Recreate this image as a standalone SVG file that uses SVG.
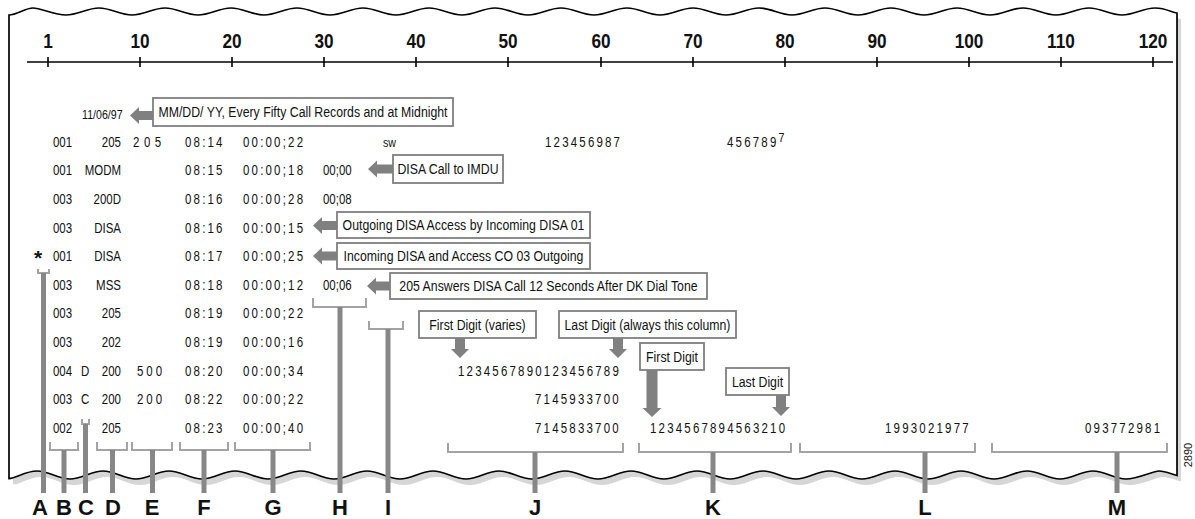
<svg xmlns="http://www.w3.org/2000/svg" width="1195" height="519" viewBox="0 0 1195 519">
<style>
text{font-family:'Liberation Sans',Arial,sans-serif;fill:#111}
.d{font-size:14px}
.sp{letter-spacing:2.68px}
.e{text-anchor:end}
.c{font-size:15px;text-anchor:middle}
.box{fill:#fff;stroke:#7f7f7f;stroke-width:1.8}
.arr{fill:#808080}
.br{fill:none;stroke:#a3a3a3;stroke-width:2}
.stem{stroke:#878787;stroke-width:5}
.num{font-size:21px;font-weight:bold;text-anchor:middle}
.lab{font-size:22px;font-weight:bold;text-anchor:middle}
.rul{stroke:#000;stroke-width:1.6}
</style>
<defs>
<path id="paper" d="M9,15 C17,15 25,8 33,8 S54.1,15 66,15 S87.1,8 99,8 S120.1,15 132,15 S153.1,8 165,8 S186.1,15 198,15 S219.1,8 231,8 S252.1,15 264,15 S285.1,8 297,8 S318.1,15 330,15 S351.1,8 363,8 S384.1,15 396,15 S417.1,8 429,8 S450.1,15 462,15 S483.1,8 495,8 S516.1,15 528,15 S549.1,8 561,8 S582.1,15 594,15 S615.1,8 627,8 S648.1,15 660,15 S681.1,8 693,8 S714.1,15 726,15 S747.1,8 759,8 S780.1,15 792,15 S813.1,8 825,8 S846.1,15 858,15 S879.1,8 891,8 S912.1,15 924,15 S945.1,8 957,8 S978.1,15 990,15 S1011.1,8 1023,8 S1044.1,15 1056,15 S1077.1,8 1089,8 S1110.1,15 1122,15 S1143.1,8 1155,8 S1172,13 1177,13 L1177,475.5 C1170,473.5 1165,471 1159,471 S1137.9,479 1126,479 S1104.9,471 1093,471 S1071.9,479 1060,479 S1038.9,471 1027,471 S1005.9,479 994,479 S972.9,471 961,471 S939.9,479 928,479 S906.9,471 895,471 S873.9,479 862,479 S840.9,471 829,471 S807.9,479 796,479 S774.9,471 763,471 S741.9,479 730,479 S708.9,471 697,471 S675.9,479 664,479 S642.9,471 631,471 S609.9,479 598,479 S576.9,471 565,471 S543.9,479 532,479 S510.9,471 499,471 S477.9,479 466,479 S444.9,471 433,471 S411.9,479 400,479 S378.9,471 367,471 S345.9,479 334,479 S312.9,471 301,471 S279.9,479 268,479 S246.9,471 235,471 S213.9,479 202,479 S180.9,471 169,471 S147.9,479 136,479 S114.9,471 103,471 S81.9,479 70,479 S48.9,471 37,471 S16,478.6 9,478.6 Z"/>
</defs>

<g id="paper-sheet">
<use href="#paper" transform="translate(4,6)" fill="#d6d6d6"/>
<use href="#paper" fill="#fff" stroke="#000" stroke-width="1.7"/>
</g>

<g id="ruler">
<line class="rul" x1="27" y1="62" x2="1173" y2="62"/>
<path class="rul" fill="none" d="M48,57V67 M140,57V67 M232,57V67 M324,57V67 M416,57V67 M508,57V67 M601,57V67 M693,57V67 M785,57V67 M877,57V67 M969,57V67 M1061,57V67 M1153,57V67"/>
<g transform="scale(0.82,1)">
<text class="num" x="58.54" y="48">1</text>
<text class="num" x="170.73" y="48">10</text>
<text class="num" x="282.93" y="48">20</text>
<text class="num" x="395.12" y="48">30</text>
<text class="num" x="507.32" y="48">40</text>
<text class="num" x="619.51" y="48">50</text>
<text class="num" x="732.93" y="48">60</text>
<text class="num" x="845.12" y="48">70</text>
<text class="num" x="957.32" y="48">80</text>
<text class="num" x="1069.51" y="48">90</text>
<text class="num" x="1181.71" y="48">100</text>
<text class="num" x="1293.9" y="48">110</text>
<text class="num" x="1406.1" y="48">120</text>
</g>
</g>

<g id="records">
<text x="34" y="265" style="font-size:21px;font-weight:bold">*</text>
<g class="d" transform="scale(0.82,1)">
<text x="100" y="119.5" style="font-size:13px">11/06/97</text>

<text x="64.63" y="147">001</text><text class="e" x="147.56" y="147">205</text><text x="162.2" y="147" style="letter-spacing:5.49px">205</text><text class="sp" x="225.61" y="147">08:14</text><text class="sp" x="296.34" y="147">00:00;22</text><text x="467.07" y="147" style="font-size:13px">sw</text><text class="sp" x="664.63" y="147">123456987</text><text class="sp" x="886.59" y="147">456789<tspan dy="-5" style="font-size:13px">7</tspan></text>

<text x="64.63" y="175.5">001</text><text class="e" x="147.56" y="175.5">MODM</text><text class="sp" x="225.61" y="175.5">08:15</text><text class="sp" x="296.34" y="175.5">00:00;18</text><text x="393.9" y="175.5">00;00</text>

<text x="64.63" y="204.5">003</text><text class="e" x="147.56" y="204.5">200D</text><text class="sp" x="225.61" y="204.5">08:16</text><text class="sp" x="296.34" y="204.5">00:00;28</text><text x="393.9" y="204.5">00;08</text>

<text x="64.63" y="233">003</text><text class="e" x="147.56" y="233">DISA</text><text class="sp" x="225.61" y="233">08:16</text><text class="sp" x="296.34" y="233">00:00;15</text>

<text x="64.63" y="261.5">001</text><text class="e" x="147.56" y="261.5">DISA</text><text class="sp" x="225.61" y="261.5">08:17</text><text class="sp" x="296.34" y="261.5">00:00;25</text>

<text x="64.63" y="290">003</text><text class="e" x="147.56" y="290">MSS</text><text class="sp" x="225.61" y="290">08:18</text><text class="sp" x="296.34" y="290">00:00;12</text><text x="393.9" y="290">00;06</text>

<text x="64.63" y="318.5">003</text><text class="e" x="147.56" y="318.5">205</text><text class="sp" x="225.61" y="318.5">08:19</text><text class="sp" x="296.34" y="318.5">00:00;22</text>

<text x="64.63" y="347.5">003</text><text class="e" x="147.56" y="347.5">202</text><text class="sp" x="225.61" y="347.5">08:19</text><text class="sp" x="296.34" y="347.5">00:00;16</text>

<text x="64.63" y="376">004</text><text x="98.78" y="376">D</text><text class="e" x="147.56" y="376">200</text><text x="167.07" y="376" style="letter-spacing:3.66px">500</text><text class="sp" x="225.61" y="376">08:20</text><text class="sp" x="296.34" y="376">00:00;34</text><text class="sp" x="558.54" y="376">1234567890123456789</text>

<text x="64.63" y="404.5">003</text><text x="98.78" y="404.5">C</text><text class="e" x="147.56" y="404.5">200</text><text x="167.07" y="404.5" style="letter-spacing:3.66px">200</text><text class="sp" x="225.61" y="404.5">08:22</text><text class="sp" x="296.34" y="404.5">00:00;22</text><text class="sp" x="652.44" y="404.5">7145933700</text>

<text x="64.63" y="433">002</text><text class="e" x="147.56" y="433">205</text><text class="sp" x="225.61" y="433">08:23</text><text class="sp" x="296.34" y="433">00:00;40</text><text class="sp" x="652.44" y="433">7145833700</text><text class="sp" x="792.68" y="433">1234567894563210</text><text class="sp" x="1079.27" y="433">1993021977</text><text class="sp" x="1323.17" y="433">093772981</text>
</g>
</g>

<g id="callout-date">
<polygon class="arr" points="130,115.5 139,107 139,111 153,111 153,120 139,120 139,124"/>
<rect class="box" x="153" y="98" width="300" height="28"/>
<text class="c" transform="scale(0.82,1)" x="369.51" y="117.5">MM/DD/ YY, Every Fifty Call Records and at Midnight</text>
</g>
<g id="callout-imdu">
<polygon class="arr" points="368,169 377,160.5 377,164.5 393,164.5 393,173.5 377,173.5 377,177.5"/>
<rect class="box" x="393" y="155" width="110" height="28"/>
<text class="c" transform="scale(0.82,1)" x="546.34" y="174.5">DISA Call to IMDU</text>
</g>
<g id="callout-outgoing">
<polygon class="arr" points="313,225.5 322,217 322,221 337,221 337,230 322,230 322,234"/>
<rect class="box" x="337" y="212" width="253" height="26"/>
<text class="c" transform="scale(0.82,1)" x="565.24" y="230.5">Outgoing DISA Access by Incoming DISA 01</text>
</g>
<g id="callout-incoming">
<polygon class="arr" points="313,256 322,247.5 322,251.5 337,251.5 337,260.5 322,260.5 322,264.5"/>
<rect class="box" x="337" y="243" width="253" height="26"/>
<text class="c" transform="scale(0.82,1)" x="565.24" y="261.5">Incoming DISA and Access CO 03 Outgoing</text>
</g>
<g id="callout-answers">
<polygon class="arr" points="367,286 376,277.5 376,281.5 390,281.5 390,290.5 376,290.5 376,294.5"/>
<rect class="box" x="390" y="273" width="317" height="26"/>
<text class="c" transform="scale(0.82,1)" x="668.9" y="291.5">205 Answers DISA Call 12 Seconds After DK Dial Tone</text>
</g>
<g id="callout-first-varies">
<rect class="box" x="419" y="311" width="117" height="27"/>
<text class="c" transform="scale(0.82,1)" x="582.32" y="330">First Digit (varies)</text>
<polygon class="arr" points="455,338 465,338 465,349 469,349 460,358 451,349 455,349"/>
</g>
<g id="callout-last-always">
<rect class="box" x="559" y="311" width="177" height="27"/>
<text class="c" transform="scale(0.82,1)" x="789.63" y="330">Last Digit (always this column)</text>
<polygon class="arr" points="613,338 623,338 623,349 627,349 618,358 609,349 613,349"/>
</g>
<g id="callout-first">
<rect class="box" x="640" y="343" width="64" height="27"/>
<text class="c" transform="scale(0.82,1)" x="819.51" y="362">First Digit</text>
<polygon class="arr" points="646.5,370 657.5,370 657.5,408 661.5,408 652,417 642.5,408 646.5,408"/>
</g>
<g id="callout-last">
<rect class="box" x="726" y="368" width="63" height="27"/>
<text class="c" transform="scale(0.82,1)" x="923.78" y="387">Last Digit</text>
<polygon class="arr" points="776,395 786,395 786,407 790,407 781,416 772,407 776,407"/>
</g>

<g id="connectors">
<path class="br" d="M38,269V273H49V269 M82,419V424H89V419 M50,442V450H78V442 M97,442V450H127V442 M132,442V450H172V442 M180,442V450H228V442 M235,442V450H310V442 M313,298V307H366V298 M369,321V329H403V321 M448,443V452H623V443 M639,443V452H791V443 M800,443V452H975V443 M992,443V452H1167V443"/>
<path class="stem" d="M43.5,273V493 M64,450V493 M85.5,424V493 M112.5,450V493 M152.5,450V493 M204,450V493 M273,450V493 M340,307V493 M388,329V493 M535,452V493 M713,452V493 M925,452V493 M1117,452V493"/>
</g>

<g id="labels">
<text class="lab" x="40" y="515">A</text>
<text class="lab" x="64" y="515">B</text>
<text class="lab" x="86" y="515">C</text>
<text class="lab" x="113" y="515">D</text>
<text class="lab" x="152" y="515">E</text>
<text class="lab" x="204" y="515">F</text>
<text class="lab" x="273" y="515">G</text>
<text class="lab" x="340" y="515">H</text>
<text class="lab" x="388" y="515">I</text>
<text class="lab" x="535" y="515">J</text>
<text class="lab" x="713" y="515">K</text>
<text class="lab" x="925" y="515">L</text>
<text class="lab" x="1117" y="515">M</text>
<text x="1192" y="455" transform="rotate(-90 1192 455)" style="font-size:11px;text-anchor:middle">2890</text>
</g>
</svg>
